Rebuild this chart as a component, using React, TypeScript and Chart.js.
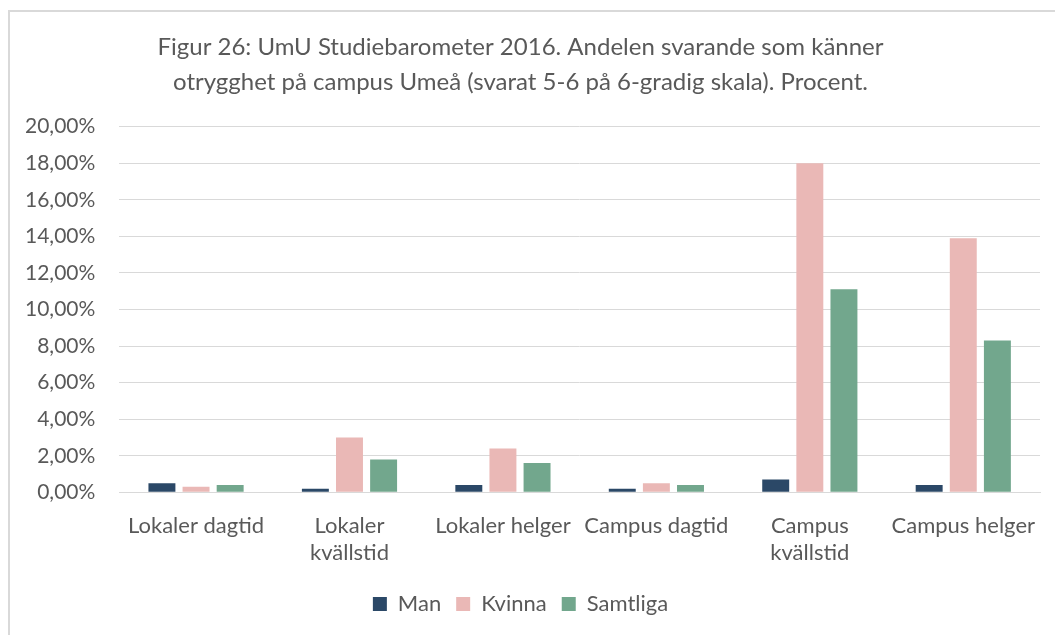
import React, { useEffect, useRef } from "react";
import { Chart, registerables } from "chart.js";

Chart.register(...registerables);

const categories: (string | string[])[] = [
  "Lokaler dagtid",
  ["Lokaler", "kvällstid"],
  "Lokaler helger",
  "Campus dagtid",
  ["Campus", "kvällstid"],
  "Campus helger",
];
const manValues = [0.5, 0.2, 0.4, 0.2, 0.7, 0.4];
const kvinnaValues = [0.3, 3.0, 2.4, 0.5, 18.0, 13.9];
const samtligaValues = [0.4, 1.8, 1.6, 0.4, 11.1, 8.3];
const titleLines = [
  "Figur 26: UmU Studiebarometer 2016. Andelen svarande som känner",
  "otrygghet på campus Umeå (svarat 5-6 på 6-gradig skala). Procent.",
];

const FONT = "Lato";
const TEXT = "#595959";

export default function App() {
  const ref = useRef<HTMLCanvasElement | null>(null);
  useEffect(() => {
    if (!ref.current) return;
    const chart = new Chart(ref.current, {
      type: "bar",
      data: {
        labels: categories,
        datasets: [
          { label: "Man", data: manValues, backgroundColor: "#2B4867", borderWidth: 0 },
          { label: "Kvinna", data: kvinnaValues, backgroundColor: "#EAB8B6", borderWidth: 0 },
          { label: "Samtliga", data: samtligaValues, backgroundColor: "#72A78D", borderWidth: 0 },
        ],
      },
      options: {
        animation: false,
        responsive: false,
        maintainAspectRatio: false,
        layout: { padding: { left: 0, right: 15, top: 18, bottom: 12 } },
        datasets: { bar: { categoryPercentage: 0.667, barPercentage: 0.79 } },
        plugins: {
          title: {
            display: true,
            text: titleLines,
            color: TEXT,
            font: { family: FONT, size: 24, weight: "normal", lineHeight: 1.45 },
            padding: { top: 0, bottom: 27 },
          },
          legend: {
            position: "bottom",
            labels: {
              color: TEXT,
              font: { family: FONT, size: 22 },
              usePointStyle: true,
              pointStyle: "rect",
              boxWidth: 14,
              boxHeight: 14,
              padding: 15,
            },
          },
          tooltip: { enabled: false },
        },
        scales: {
          x: {
            grid: { display: false },
            border: { display: true, color: "#D9D9D9", width: 1 },
            ticks: {
              color: TEXT,
              font: { family: FONT, size: 22, lineHeight: 1.22 },
              maxRotation: 0,
              autoSkip: false,
              padding: 12,
            },
          },
          y: {
            min: 0,
            max: 20,
            grid: { color: "#D9D9D9", drawTicks: false },
            border: { display: false },
            ticks: {
              stepSize: 2,
              color: TEXT,
              font: { family: FONT, size: 21 },
              padding: 24,
              callback: (v: any) => Number(v).toFixed(2).replace(".", ",") + "%",
            },
          },
        },
      },
    });
    return () => chart.destroy();
  }, []);
  return (
    <div style={{ position: "fixed", left: 0, top: 0, width: 1055, height: 635, overflow: "hidden", background: "#fff" }}>
      <div style={{ position: "absolute", left: 8, top: 10, width: 1200, height: 800, borderLeft: "2px solid #D9D9D9", borderTop: "2px solid #D9D9D9" }} />
      <canvas ref={ref} width={1054} height={625} style={{ position: "absolute", left: 1, top: 12 }} />
    </div>
  );
}
